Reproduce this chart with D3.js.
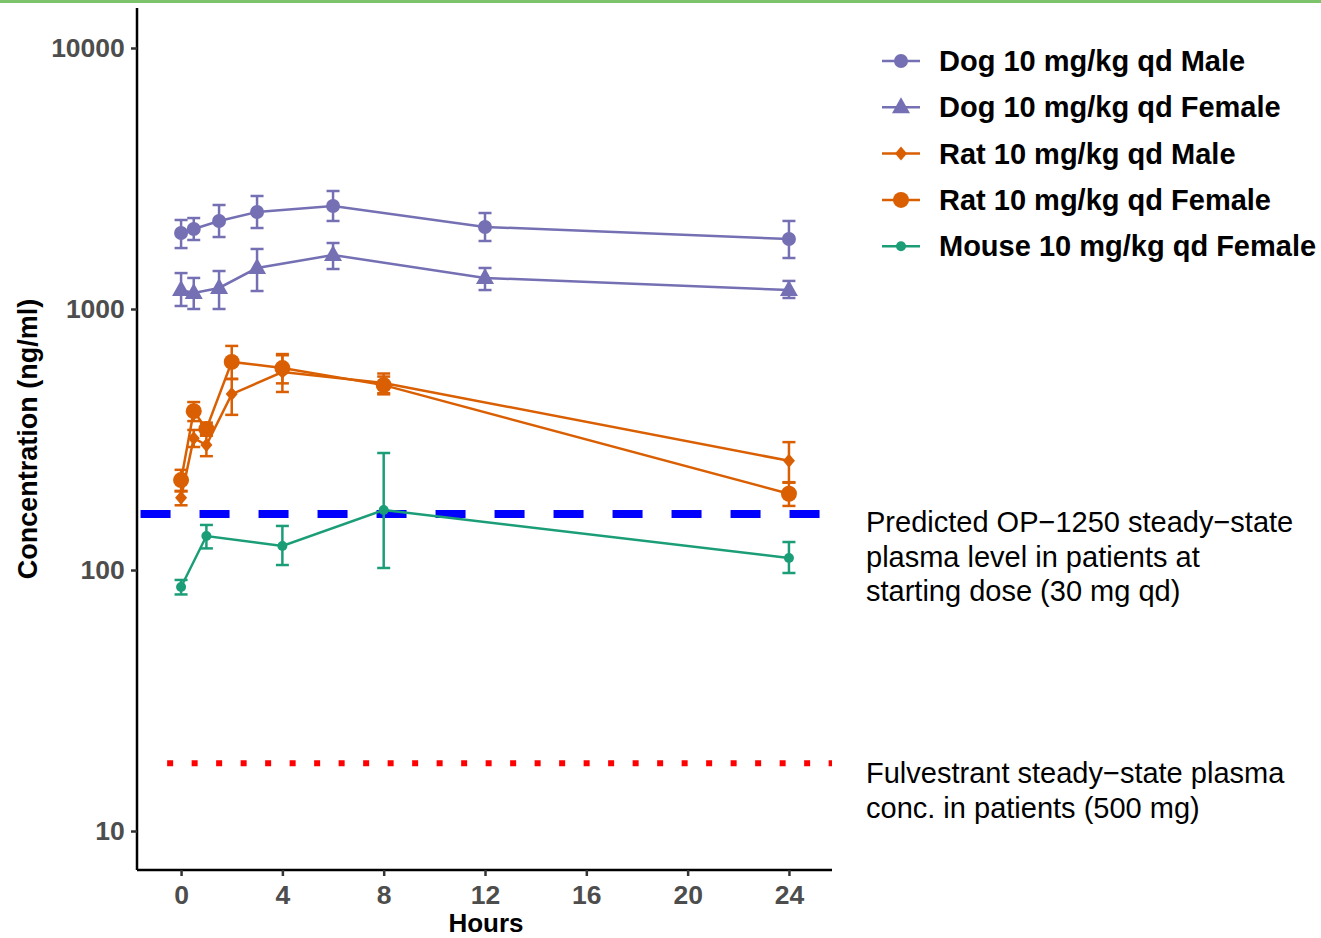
<!DOCTYPE html>
<html>
<head>
<meta charset="utf-8">
<script src="https://cdn.jsdelivr.net/npm/d3@7"></script>
<style>
  body { margin: 0; background: #fff; }
  svg { font-family: "Liberation Sans", Arial, sans-serif; }
</style>
</head>
<body>
<div id="chart"></div>
<script>
// series names and colours
const seriesNames = ["Dog 10 mg/kg qd Male", "Dog 10 mg/kg qd Female", "Rat 10 mg/kg qd Male",
  "Rat 10 mg/kg qd Female", "Mouse 10 mg/kg qd Female"];
const seriesColors = ["#7570B3", "#7570B3", "#D95F02", "#D95F02", "#1B9E77"];
const seriesShapes = ["circle", "triangle", "diamond", "bigcircle", "smallcircle"];

// sampling times (hours)
const dogHours = [0, 0.5, 1.5, 3, 6, 12, 24];
const ratHours = [0, 0.5, 1, 2, 4, 8, 24];
const mouseHours = [0, 1, 4, 8, 24];

// mean concentrations (ng/ml) and error bar limits
const dogMaleMean = [1955, 2025, 2174, 2353, 2481, 2062, 1855];
const dogMaleLo = [1712, 1838, 1887, 2043, 2174, 1822, 1568];
const dogMaleHi = [2193, 2231, 2503, 2710, 2832, 2332, 2174];

const dogFemaleMean = [1182, 1151, 1204, 1436, 1610, 1315, 1182];
const dogFemaleLo = [1027, 1000, 1000, 1172, 1423, 1182, 1102];
const dogFemaleHi = [1373, 1315, 1398, 1698, 1790, 1436, 1281];

const ratMaleMean = [189, 320, 301, 472, 573, 521, 262];
const ratMaleLo = [177, 296, 273, 393, 481, 476, 217];
const ratMaleHi = [201, 344, 329, 539, 665, 566, 309];

const ratFemaleMean = [221, 406, 347, 627, 594, 511, 196];
const ratFemaleLo = [200, 372, 327, 540, 519, 471, 176];
const ratFemaleHi = [242, 440, 367, 722, 672, 551, 216];

const mouseMean = [86.1, 135, 123.6, 169.8, 111.2];
const mouseLo = [80.6, 121, 104.5, 101.8, 97.4];
const mouseHi = [91.6, 148.8, 147.5, 280.7, 128];

// reference levels
const opLevel = 164;
const fulvLevel = 18.2;
const opText = ["Predicted OP\u22121250 steady\u2212state", "plasma level in patients at", "starting dose (30 mg qd)"];
const fulvText = ["Fulvestrant steady\u2212state plasma", "conc. in patients (500 mg)"];

const xTicks = [0, 4, 8, 12, 16, 20, 24];
const yTicks = [10, 100, 1000, 10000];

const allX = [dogHours, dogHours, ratHours, ratHours, mouseHours];
const allMean = [dogMaleMean, dogFemaleMean, ratMaleMean, ratFemaleMean, mouseMean];
const allLo = [dogMaleLo, dogFemaleLo, ratMaleLo, ratFemaleLo, mouseLo];
const allHi = [dogMaleHi, dogFemaleHi, ratMaleHi, ratFemaleHi, mouseHi];

const W = 1321, H = 938;
const plot = {left: 137, right: 832, top: 8, bottom: 870};

const svg = d3.select("#chart").append("svg")
  .attr("width", W).attr("height", H);

svg.append("rect").attr("x", 0).attr("y", 0).attr("width", W).attr("height", 3).attr("fill", "#7DC36B");

const x = d3.scaleLinear().domain([-1.74, 25.7]).range([plot.left, plot.right]);
const y = d3.scaleLog().domain([7.09, 14230]).range([plot.bottom, plot.top]);

// reference lines
svg.append("line")
  .attr("x1", x(-1.6)).attr("x2", x(25.3))
  .attr("y1", y(opLevel)).attr("y2", y(opLevel))
  .attr("stroke", "#0000FF").attr("stroke-width", 8)
  .attr("stroke-dasharray", "30,29");
svg.append("line")
  .attr("x1", x(-0.55)).attr("x2", x(25.7))
  .attr("y1", y(fulvLevel)).attr("y2", y(fulvLevel))
  .attr("stroke", "#FF0000").attr("stroke-width", 6)
  .attr("stroke-dasharray", "6,18.5");

function drawMarker(g, shape, cx, cy, color) {
  if (shape === "circle") g.append("circle").attr("cx", cx).attr("cy", cy).attr("r", 7).attr("fill", color);
  else if (shape === "bigcircle") g.append("circle").attr("cx", cx).attr("cy", cy).attr("r", 8).attr("fill", color);
  else if (shape === "smallcircle") g.append("circle").attr("cx", cx).attr("cy", cy).attr("r", 5).attr("fill", color);
  else if (shape === "triangle") g.append("path").attr("d", `M${cx},${cy - 10}L${cx + 9},${cy + 6}L${cx - 9},${cy + 6}Z`).attr("fill", color);
  else if (shape === "diamond") g.append("path").attr("d", `M${cx},${cy - 7}L${cx + 6},${cy}L${cx},${cy + 7}L${cx - 6},${cy}Z`).attr("fill", color);
}

const line = d3.line().x(d => x(d[0])).y(d => y(d[1]));

seriesNames.forEach((name, i) => {
  const g = svg.append("g");
  const col = seriesColors[i];
  const pts = allX[i].map((h, j) => [h, allMean[i][j], allLo[i][j], allHi[i][j]]);
  // error bars
  pts.forEach(p => {
    const px = x(p[0]);
    g.append("line").attr("x1", px).attr("x2", px).attr("y1", y(p[2])).attr("y2", y(p[3]))
      .attr("stroke", col).attr("stroke-width", 2.5);
    [p[2], p[3]].forEach(v => {
      g.append("line").attr("x1", px - 6.5).attr("x2", px + 6.5).attr("y1", y(v)).attr("y2", y(v))
        .attr("stroke", col).attr("stroke-width", 2.5);
    });
  });
  g.append("path").datum(pts).attr("d", line)
    .attr("fill", "none").attr("stroke", col).attr("stroke-width", 2.5);
  pts.forEach(p => drawMarker(g, seriesShapes[i], x(p[0]), y(p[1]), col));
});

// axes
const xAxis = svg.append("g").attr("transform", `translate(0,${plot.bottom})`)
  .call(d3.axisBottom(x).tickValues(xTicks).tickSize(6).tickSizeOuter(0));
const yAxis = svg.append("g").attr("transform", `translate(${plot.left},0)`)
  .call(d3.axisLeft(y).tickValues(yTicks).tickFormat(d3.format("d")).tickSize(6).tickSizeOuter(0));
[xAxis, yAxis].forEach(a => {
  a.select(".domain").attr("stroke", "#000").attr("stroke-width", 2.5);
  a.selectAll(".tick line").attr("stroke", "#333").attr("stroke-width", 2.5);
  a.selectAll(".tick text").attr("fill", "#4D4D4D").attr("font-size", 26.5).attr("font-weight", "bold")
    .attr("font-family", "Liberation Sans, Arial, sans-serif");
});
xAxis.select(".domain").attr("d", `M${plot.left},0H${plot.right}`);
yAxis.select(".domain").attr("d", `M0,${plot.top}V${plot.bottom}`);
xAxis.selectAll(".tick text").attr("dy", "0.93em");
yAxis.selectAll(".tick text").attr("dx", "-0.12em");

svg.append("text").attr("x", 486).attr("y", 932)
  .attr("text-anchor", "middle").attr("font-size", 26).attr("font-weight", "bold").text("Hours");
svg.append("text").attr("transform", `translate(37,${(plot.top + plot.bottom) / 2})rotate(-90)`)
  .attr("text-anchor", "middle").attr("font-size", 27).attr("font-weight", "bold").text("Concentration (ng/ml)");

// annotations
opText.forEach((t, i) => {
  svg.append("text").attr("x", 866).attr("y", 532 + i * 34.5).attr("font-size", 29).attr("fill", "#000").text(t);
});
fulvText.forEach((t, i) => {
  svg.append("text").attr("x", 866).attr("y", 783 + i * 34.5).attr("font-size", 29).attr("fill", "#000").text(t);
});

// legend
const legend = svg.append("g");
seriesNames.forEach((name, i) => {
  const ly = 61 + i * 46.3;
  legend.append("line").attr("x1", 882).attr("x2", 920).attr("y1", ly).attr("y2", ly)
    .attr("stroke", seriesColors[i]).attr("stroke-width", 2.5);
  drawMarker(legend, seriesShapes[i], 901, ly, seriesColors[i]);
  legend.append("text").attr("x", 939).attr("y", ly + 10).attr("font-size", 29).attr("font-weight", "bold").text(name);
});
</script>
</body>
</html>
